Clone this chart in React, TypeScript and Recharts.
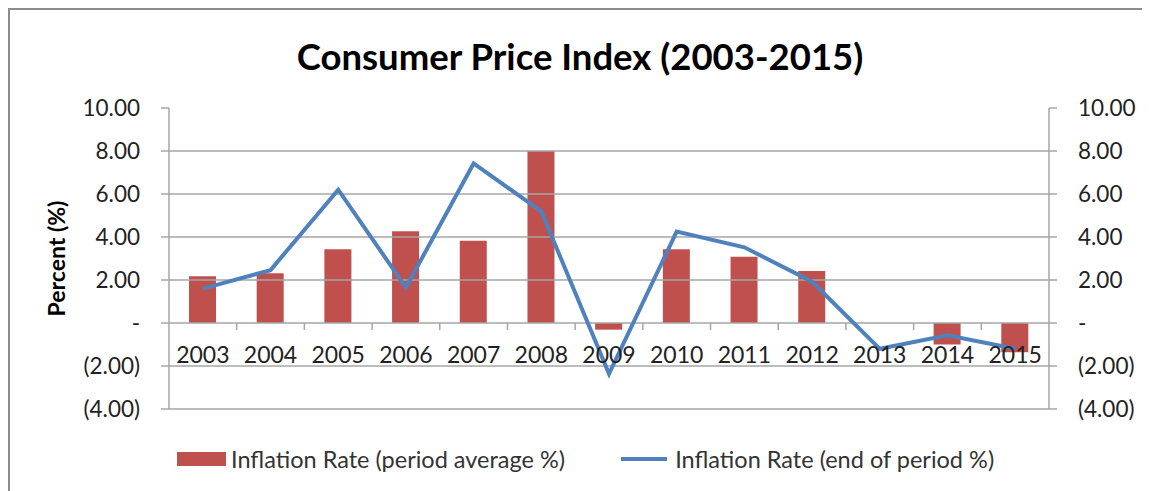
import React from 'react';
import { ComposedChart, Bar, Line, XAxis, YAxis, ReferenceLine } from 'recharts';

const years = ['2003', '2004', '2005', '2006', '2007', '2008', '2009', '2010', '2011', '2012', '2013', '2014', '2015'];
const periodAverage = [2.18, 2.31, 3.43, 4.27, 3.83, 8.0, -0.31, 3.43, 3.08, 2.42, 0, -1.0, -1.36];
const endOfPeriod = [1.6, 2.46, 6.2, 1.65, 7.42, 5.19, -2.36, 4.25, 3.52, 1.92, -1.2, -0.57, -1.2];
const yTicks = [-4, -2, 0, 2, 4, 6, 8, 10];
const gridValues = [-4, -2, 2, 4, 6, 8];

const chartData = years.map((year, i) => ({
  year,
  avg: periodAverage[i],
  end: endOfPeriod[i],
}));

const W = 1140;
const H = 481;
const X_AXIS_H = 30;
const M = { top: 98, right: 41, bottom: 82 - X_AXIS_H, left: 30 };
const Y_MIN = -4;
const Y_MAX = 10;
const PLOT_H = H - M.top - M.bottom - X_AXIS_H;
const ZERO_UP = (PLOT_H * (0 - Y_MIN)) / (Y_MAX - Y_MIN);

const FONT = 'Lato, "Open Sans", sans-serif';
const GRID = '#a6a6a6';
const RED = '#c0504d';
const BLUE = '#4f81bd';

const fmt = (v: number) =>
  v === 0 ? '-' : v < 0 ? `(${Math.abs(v).toFixed(2)})` : v.toFixed(2);

// category labels sit under the zero line, not at the bottom of the plot
const YearTick = (props: any) => {
  const { x, y, payload, index } = props;
  const zeroY = y - ZERO_UP;
  const half = payload.offset || 0;
  return (
    <g>
      {index > 0 && (
        <line x1={x - half} x2={x - half} y1={zeroY} y2={zeroY + 7} stroke={GRID} strokeWidth={1.5} />
      )}
      <text x={x} y={zeroY + 34} textAnchor="middle" dominantBaseline="middle" fill="#222" fontSize={23} fontFamily={FONT}>
        {payload.value}
      </text>
    </g>
  );
};

const axisTick = { fill: '#222', fontSize: 22.5, fontFamily: FONT };

export default function App() {
  return (
    <div
      style={{
        position: 'relative',
        width: W,
        height: H,
        borderLeft: '2px solid #8c8c8c',
        borderTop: '2px solid #8c8c8c',
        background: '#fff',
        fontFamily: FONT,
      }}
    >
      <div
        style={{
          position: 'absolute',
          top: 24,
          left: 0,
          width: W,
          textAlign: 'center',
          fontSize: 36.5,
          fontWeight: 700,
          color: '#000',
        }}
      >
        Consumer Price Index (2003-2015)
      </div>
      <ComposedChart width={W} height={H} data={chartData} margin={M}>
        {gridValues.map((v) => (
          <ReferenceLine key={v} yAxisId="left" y={v} stroke={GRID} strokeWidth={1.5} />
        ))}
        <ReferenceLine yAxisId="left" y={0} stroke={GRID} strokeWidth={1.5} />
        <XAxis
          dataKey="year"
          height={X_AXIS_H}
          axisLine={false}
          tickLine={false}
          tickSize={0}
          tickMargin={0}
          interval={0}
          tick={<YearTick />}
        />
        <YAxis
          yAxisId="left"
          width={129}
          domain={[Y_MIN, Y_MAX]}
          ticks={yTicks}
          interval={0}
          tickFormatter={fmt}
          axisLine={{ stroke: GRID, strokeWidth: 1.5 }}
          tickLine={{ stroke: GRID, strokeWidth: 1.5 }}
          tickSize={8}
          tickMargin={21}
          tick={axisTick}
          label={{
            value: 'Percent (%)',
            angle: -90,
            position: 'insideLeft',
            offset: 17,
            style: { textAnchor: 'middle', fontWeight: 700, fontSize: 23, fill: '#000', fontFamily: FONT },
          }}
        />
        <YAxis
          yAxisId="right"
          orientation="right"
          width={60}
          domain={[Y_MIN, Y_MAX]}
          ticks={yTicks}
          interval={0}
          tickFormatter={fmt}
          axisLine={{ stroke: GRID, strokeWidth: 1.5 }}
          tickLine={{ stroke: GRID, strokeWidth: 1.5 }}
          tickSize={8}
          tickMargin={21}
          tick={axisTick}
        />
        <Bar yAxisId="left" dataKey="avg" fill={RED} barSize={27} isAnimationActive={false} />
        <Line
          yAxisId="right"
          type="linear"
          dataKey="end"
          stroke={BLUE}
          strokeWidth={4}
          dot={false}
          activeDot={false}
          isAnimationActive={false}
        />
      </ComposedChart>
      <div
        style={{
          position: 'absolute',
          top: 435,
          left: 167,
          display: 'flex',
          alignItems: 'center',
          fontSize: 23.5,
          color: '#333',
          whiteSpace: 'nowrap',
        }}
      >
        <span style={{ display: 'inline-block', width: 49, height: 14, background: RED, marginRight: 5 }} />
        <span>Inflation Rate (period average %)</span>
        <span style={{ display: 'inline-block', width: 46, height: 4, background: BLUE, marginLeft: 56, marginRight: 8 }} />
        <span>Inflation Rate (end of period %)</span>
      </div>
    </div>
  );
}
